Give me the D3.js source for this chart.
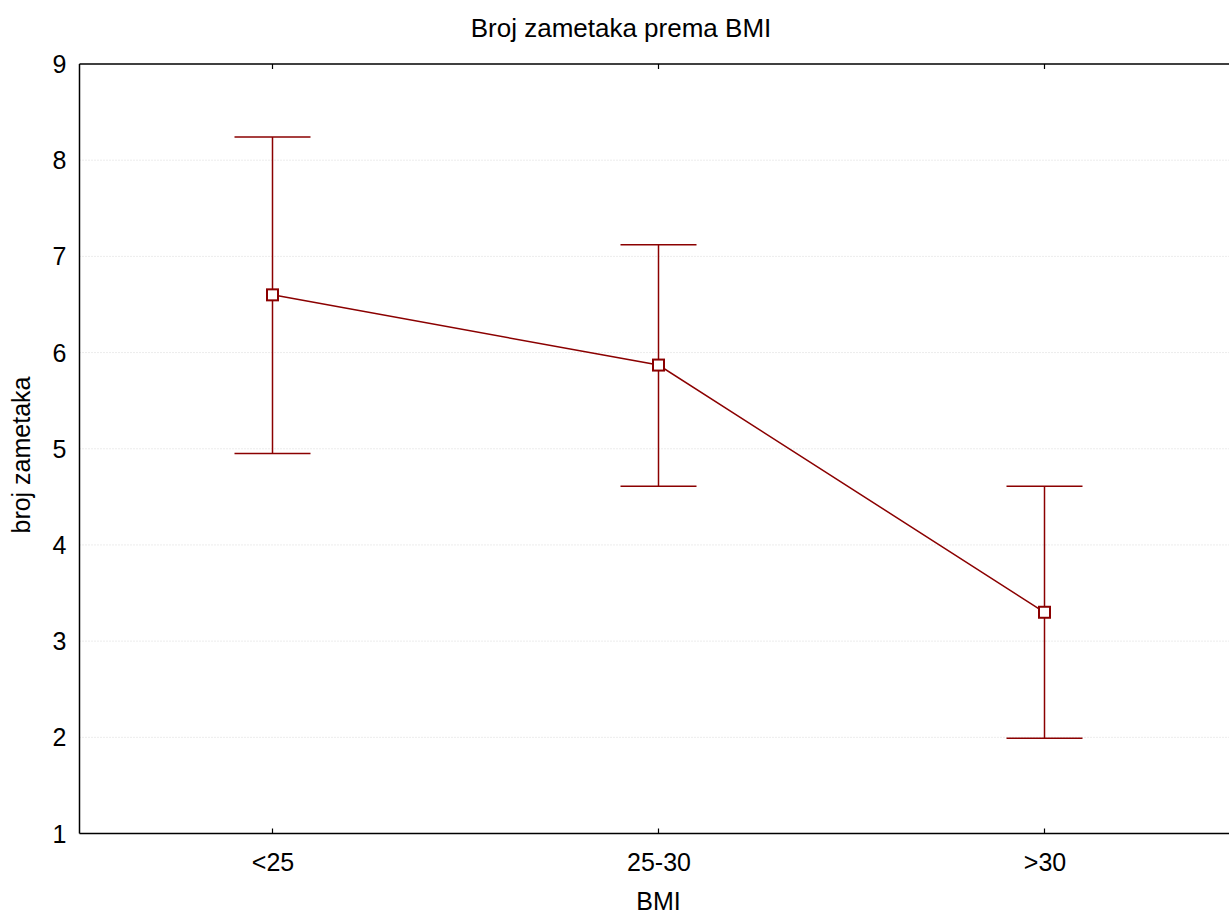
<!DOCTYPE html>
<html><head><meta charset="utf-8">
<script src="https://cdn.jsdelivr.net/npm/d3@7"></script>
<style>body{margin:0;background:#fff}svg{display:block}text{font-family:"Liberation Sans",Arial,sans-serif}</style>
</head><body><svg id="c" width="1229" height="917"></svg>
<script>
const categories = ["<25", "25-30", ">30"];
const means = [6.6, 5.87, 3.3];
const upper = [8.24, 7.12, 4.61];
const lower = [4.95, 4.61, 1.99];
const yTicks = [1, 2, 3, 4, 5, 6, 7, 8, 9];
const title = "Broj zametaka prema BMI";
const xTitle = "BMI";
const yTitle = "broj zametaka";

const svg = d3.select("#c");
const L = 79.5, T = 64, B = 833.5, R = 79.5 + 3 * 386;
const color = "#8b0000";
const fs = 25;

const x = d3.scalePoint().domain(categories).range([L, R]).padding(0.5);
const y = d3.scaleLinear().domain([1, 9]).range([B, T]);

// grid
svg.append("g").selectAll("line").data(yTicks.slice(1, -1)).join("line")
  .attr("x1", L).attr("x2", R).attr("y1", d => y(d)).attr("y2", d => y(d))
  .attr("stroke", "#d8d8d8").attr("stroke-width", 1).attr("stroke-dasharray", "1,2");

// frame
svg.append("line").attr("x1", L).attr("x2", R).attr("y1", T).attr("y2", T).attr("stroke", "#000").attr("stroke-width", 1.5);
svg.append("line").attr("x1", L).attr("x2", R).attr("y1", B).attr("y2", B).attr("stroke", "#000").attr("stroke-width", 1.5);
svg.append("line").attr("x1", L).attr("x2", L).attr("y1", T).attr("y2", B).attr("stroke", "#000").attr("stroke-width", 1.5);

// x ticks (inside, top and bottom)
const xa = d3.axisBottom(x).tickSize(0).tickPadding(0);
categories.forEach(c => {
  svg.append("line").attr("x1", x(c)).attr("x2", x(c)).attr("y1", T).attr("y2", T + 5).attr("stroke", "#000").attr("stroke-width", 1.2);
  svg.append("line").attr("x1", x(c)).attr("x2", x(c)).attr("y1", B).attr("y2", B - 5).attr("stroke", "#000").attr("stroke-width", 1.2);
});
const gx = svg.append("g").attr("transform", `translate(0,${B})`).call(xa);
gx.select(".domain").remove();
gx.selectAll("text").attr("y", 37).attr("dy", 0).attr("font-size", fs).attr("fill", "#000").attr("font-family", "Liberation Sans, Arial, sans-serif");

const ya = d3.axisLeft(y).tickValues(yTicks).tickSize(0).tickPadding(13).tickFormat(d3.format("d"));
const gy = svg.append("g").attr("transform", `translate(${L},0)`).call(ya);
gy.select(".domain").remove();
gy.selectAll("text").attr("font-size", fs).attr("fill", "#000").attr("dy", "0.34em").attr("font-family", "Liberation Sans, Arial, sans-serif");

// titles
svg.append("text").attr("x", 621).attr("y", 37).attr("text-anchor", "middle").attr("font-size", 26).text(title);
svg.append("text").attr("x", x(categories[1])).attr("y", 910).attr("text-anchor", "middle").attr("font-size", fs).text(xTitle);
svg.append("text").attr("transform", "translate(30,455) rotate(-90)").attr("text-anchor", "middle").attr("font-size", fs).text(yTitle);

// error bars
const cap = 38;
const g = svg.append("g").attr("stroke", color).attr("stroke-width", 1.5).attr("fill", "none");
categories.forEach((c, i) => {
  g.append("line").attr("x1", x(c)).attr("x2", x(c)).attr("y1", y(upper[i])).attr("y2", y(lower[i]));
  g.append("line").attr("x1", x(c) - cap).attr("x2", x(c) + cap).attr("y1", y(upper[i])).attr("y2", y(upper[i]));
  g.append("line").attr("x1", x(c) - cap).attr("x2", x(c) + cap).attr("y1", y(lower[i])).attr("y2", y(lower[i]));
});
// mean line
const line = d3.line().x((d, i) => x(categories[i])).y(d => y(d));
svg.append("path").datum(means).attr("d", line).attr("stroke", color).attr("stroke-width", 1.5).attr("fill", "none");
// markers
svg.append("g").selectAll("rect").data(means).join("rect")
  .attr("x", (d, i) => x(categories[i]) - 5.5).attr("y", d => y(d) - 5.5)
  .attr("width", 11).attr("height", 11).attr("fill", "#fff").attr("stroke", color).attr("stroke-width", 2);
</script></body></html>
